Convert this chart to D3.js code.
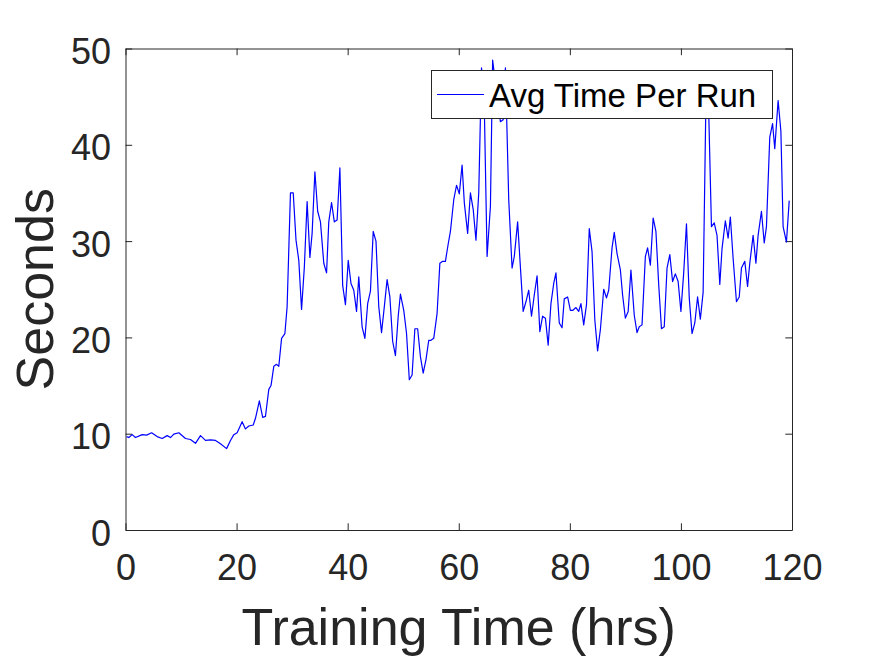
<!DOCTYPE html>
<html>
<head>
<meta charset="utf-8">
<script src="https://cdn.jsdelivr.net/npm/d3@7"></script>
<style>
body { margin: 0; background: #fff; }
text { font-family: "Liberation Sans", Arial, sans-serif; }
</style>
</head>
<body>
<script>
//series
var hours = [0.2, 0.6, 1.2, 1.8, 3.0, 3.8, 4.7, 5.7, 6.6, 7.5, 8.1, 8.7, 9.6, 10.8, 11.7, 12.6, 13.5, 14.4, 15.3, 16.2,
    17.1, 18.2, 18.9, 19.5, 20.1, 21.0, 21.6, 22.2, 23.0, 23.4, 24.1, 24.7, 25.2, 25.8, 26.2, 26.7, 27.2, 27.6, 28.1, 28.7,
    29.1, 29.7, 30.2, 30.7, 31.2, 31.7, 32.2, 32.7, 33.2, 33.6, 34.1, 34.6, 35.1, 35.7, 36.2, 36.6, 37.1, 37.6, 38.1, 38.6,
    39.1, 39.6, 40.1, 40.6, 41.1, 41.6, 42.0, 42.6, 43.1, 43.6, 44.1, 44.6, 45.1, 45.6, 46.1, 46.6, 47.1, 47.6, 48.1, 48.6,
    49.1, 49.5, 50.1, 50.6, 51.1, 51.6, 52.1, 52.6, 53.1, 53.6, 54.1, 54.6, 55.0, 55.5, 56.1, 56.6, 57.1, 57.6, 58.1, 58.5,
    59.1, 59.6, 60.1, 60.6, 61.0, 61.6, 62.1, 62.6, 63.1, 63.6, 64.1, 64.6, 65.1, 65.7, 66.1, 66.6, 67.5, 68.0, 68.4, 69.0,
    69.6, 70.0, 70.6, 71.1, 71.6, 72.1, 72.6, 73.1, 73.6, 74.1, 74.6, 75.1, 75.6, 76.1, 76.6, 77.1, 77.5, 78.1, 78.6, 79.0,
    79.6, 80.1, 80.5, 81.1, 81.6, 82.0, 82.5, 83.0, 83.5, 84.0, 84.5, 85.0, 85.5, 86.1, 86.6, 87.0, 87.6, 88.0, 88.5, 89.1,
    89.5, 90.0, 90.5, 91.0, 91.6, 92.1, 92.5, 93.0, 93.6, 94.0, 94.5, 95.0, 95.5, 96.0, 96.5, 97.0, 97.5, 98.0, 98.5, 99.0,
    99.5, 100.0, 100.5, 101.0, 101.5, 102.0, 102.5, 103.0, 103.5, 104.0, 104.5, 105.0, 105.5, 106.0, 106.5, 107.0, 107.4, 108.0, 108.5, 108.9,
    109.4, 110.0, 110.5, 110.9, 111.5, 112.0, 112.4, 113.0, 113.5, 113.9, 114.5, 115.0, 115.4, 116.0, 116.5, 116.9, 117.5, 118.0, 118.4, 119.0,
    119.5];
var seconds = [9.7, 9.6, 9.9, 9.6, 9.9, 9.85, 10.1, 9.7, 9.5, 9.8, 9.6, 9.95, 10.1, 9.5, 9.4, 9.0, 9.8, 9.3, 9.35, 9.3,
    8.95, 8.45, 9.3, 9.9, 10.1, 11.25, 10.5, 10.8, 10.9, 11.6, 13.4, 11.7, 11.8, 14.6, 15.0, 17.0, 17.2, 17.0, 19.9, 20.4,
    23.2, 35.0, 35.0, 30.1, 28.0, 22.9, 27.3, 34.1, 28.3, 30.8, 37.2, 33.1, 32.0, 27.7, 26.7, 32.0, 34.0, 32.0, 32.2, 37.6,
    25.4, 23.4, 28.0, 25.6, 24.9, 22.7, 26.3, 21.1, 19.9, 23.5, 24.8, 31.0, 30.0, 23.2, 20.5, 23.2, 26.0, 24.2, 19.6, 18.1,
    22.2, 24.5, 22.8, 20.4, 15.6, 16.1, 20.9, 20.9, 18.0, 16.3, 17.7, 19.7, 19.7, 19.9, 22.5, 27.7, 27.9, 27.9, 29.7, 31.0,
    34.3, 35.8, 34.9, 37.9, 34.0, 30.8, 35.0, 33.3, 30.1, 35.0, 48.0, 44.0, 28.4, 33.6, 48.8, 46.5, 42.4, 42.6, 48.0, 34.3,
    27.2, 28.4, 32.0, 27.3, 22.7, 23.7, 24.9, 22.2, 24.4, 26.4, 20.6, 22.2, 22.0, 19.2, 23.5, 25.6, 26.7, 21.5, 21.0, 24.0,
    24.2, 22.8, 22.8, 23.1, 22.7, 23.5, 21.3, 23.4, 31.3, 28.9, 21.8, 18.6, 20.8, 25.0, 24.1, 24.9, 29.3, 30.9, 28.7, 27.0,
    24.4, 22.0, 22.7, 27.0, 22.3, 20.5, 21.1, 21.3, 28.4, 29.3, 27.5, 32.4, 31.0, 25.5, 20.9, 21.1, 27.2, 28.6, 25.8, 26.6,
    25.8, 22.7, 26.7, 31.8, 24.1, 20.4, 21.5, 24.2, 21.9, 24.7, 44.5, 43.5, 31.5, 31.9, 30.6, 25.5, 29.2, 32.1, 30.3, 32.5,
    28.2, 23.7, 24.2, 27.2, 27.9, 25.3, 27.7, 30.6, 27.7, 30.6, 33.1, 29.8, 31.5, 40.8, 42.2, 39.6, 44.6, 41.4, 31.5, 29.9,
    34.2];

//tick values and text
var xTicks = [0, 20, 40, 60, 80, 100, 120];
var yTicks = [0, 10, 20, 30, 40, 50];
var seriesName = "Avg Time Per Run";
var xTitle = "Training Time (hrs)";
var yTitle = "Seconds";

//begin script when window loads
window.onload = drawChart();

function drawChart(){
    //svg dimensions
    var width = 875,
        height = 656;

    //plot box edges
    var left = 125.5,
        right = 792,
        top = 48.5,
        bottom = 530,
        tick = 6.7,
        axisColor = "#262626";

    var svg = d3.select("body")
        .append("svg")
        .attr("width", width)
        .attr("height", height);

    var x = d3.scaleLinear()
        .domain([0, 120])
        .range([left, right]);

    var y = d3.scaleLinear()
        .domain([0, 50])
        .range([bottom, top]);

    //white axes background
    svg.append("rect")
        .attr("x", left)
        .attr("y", top)
        .attr("width", right - left)
        .attr("height", bottom - top)
        .attr("fill", "#fff");

    //bottom axis, ticks point inward
    var xAxis = svg.append("g")
        .attr("transform", "translate(0," + bottom + ")")
        .call(d3.axisBottom(x).tickValues(xTicks).tickSizeInner(-tick).tickSizeOuter(0).tickPadding(24));

    //left axis
    var yAxis = svg.append("g")
        .attr("transform", "translate(" + left + ",0)")
        .call(d3.axisLeft(y).tickValues(yTicks).tickSizeInner(-tick).tickSizeOuter(0).tickPadding(14.5));

    //top and right axes, ticks only
    var topAxis = svg.append("g")
        .attr("transform", "translate(0," + top + ")")
        .call(d3.axisTop(x).tickValues(xTicks).tickSizeInner(-tick).tickSizeOuter(0).tickFormat(""));

    var rightAxis = svg.append("g")
        .attr("transform", "translate(" + right + ",0)")
        .call(d3.axisRight(y).tickValues(yTicks).tickSizeInner(-tick).tickSizeOuter(0).tickFormat(""));

    svg.selectAll(".domain, .tick line")
        .attr("stroke", axisColor)
        .attr("stroke-width", 1);

    xAxis.selectAll("text")
        .attr("fill", axisColor)
        .attr("font-size", 36)
        .attr("font-family", "Liberation Sans, Arial, sans-serif");

    yAxis.selectAll("text")
        .attr("fill", axisColor)
        .attr("font-size", 36)
        .attr("dy", 15)
        .attr("font-family", "Liberation Sans, Arial, sans-serif");

    //data line
    var points = hours.map(function(h, i){ return [h, seconds[i]]; });

    var line = d3.line()
        .x(function(d){ return x(d[0]); })
        .y(function(d){ return y(d[1]); });

    svg.append("path")
        .datum(points)
        .attr("d", line)
        .attr("fill", "none")
        .attr("stroke", "#0000ff")
        .attr("stroke-width", 1.2)
        .attr("stroke-linejoin", "round");

    //axis titles
    svg.append("text")
        .attr("x", (left + right) / 2)
        .attr("y", 645)
        .attr("text-anchor", "middle")
        .attr("font-size", 52)
        .attr("fill", axisColor)
        .text(xTitle);

    svg.append("text")
        .attr("transform", "translate(53," + (top + bottom) / 2 + ") rotate(-90)")
        .attr("text-anchor", "middle")
        .attr("font-size", 52)
        .attr("fill", axisColor)
        .text(yTitle);

    //legend, drawn over the line
    var legend = svg.append("g");

    legend.append("rect")
        .attr("x", 431.5)
        .attr("y", 70.5)
        .attr("width", 341)
        .attr("height", 48)
        .attr("fill", "#fff")
        .attr("stroke", axisColor)
        .attr("stroke-width", 1);

    legend.append("line")
        .attr("x1", 437)
        .attr("x2", 484)
        .attr("y1", 94.5)
        .attr("y2", 94.5)
        .attr("stroke", "#0000ff")
        .attr("stroke-width", 1);

    legend.append("text")
        .attr("x", 489)
        .attr("y", 106.5)
        .attr("font-size", 33)
        .attr("fill", "#000")
        .text(seriesName);
};
</script>
</body>
</html>
